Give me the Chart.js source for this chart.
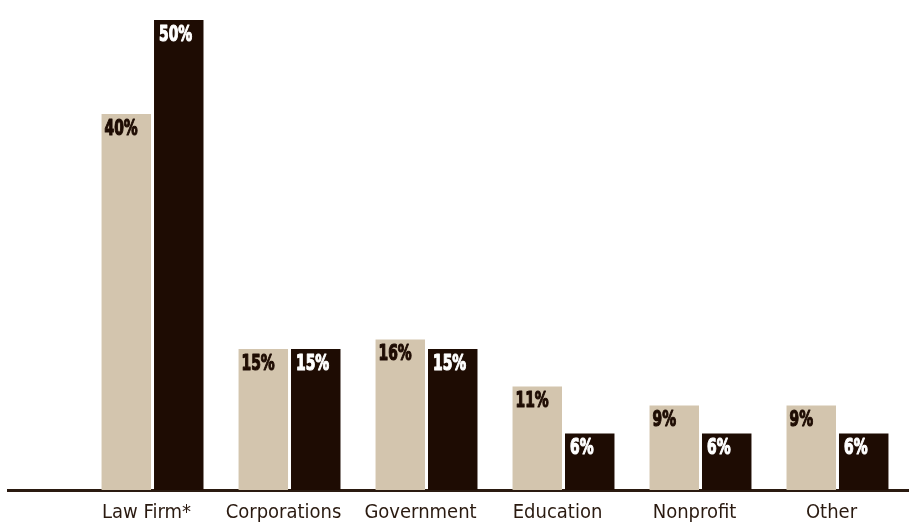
<!DOCTYPE html>
<html>
<head>
<meta charset="utf-8">
<script src="https://cdn.jsdelivr.net/npm/chart.js@4"></script>
<style>
  html, body { margin: 0; padding: 0; background: #fff; }
  #wrap { width: 909px; height: 527px; position: relative; }
</style>
</head>
<body>
<div id="wrap"><canvas id="sectorChart"></canvas></div>
<script>
// chart data
const categories = ['Law Firm*', 'Corporations', 'Government', 'Education', 'Nonprofit', 'Other'];
const seriesA = [40, 15, 16, 11, 9, 9];
const seriesB = [50, 15, 15, 6, 6, 6];

const tan = '#d3c5ae';
const dark = '#1e0c03';

function toPoints(values) {
    return values.map((v, i) => ({ x: i, y: v }));
}

// percent labels in the top-left corner of each bar
const barLabels = {
    id: 'barLabels',
    afterDatasetsDraw(chart) {
        const ctx = chart.ctx;
        chart.data.datasets.forEach((ds, di) => {
            const meta = chart.getDatasetMeta(di);
            meta.data.forEach((bar, i) => {
                const left = bar.x - bar.width / 2;
                const txt = ds.data[i].y + '%';
                ctx.save();
                ctx.fillStyle = di === 0 ? dark : '#ffffff';
                ctx.strokeStyle = ctx.fillStyle;
                ctx.lineWidth = 1.2;
                ctx.lineJoin = 'round';
                ctx.font = 'bold 22px "DejaVu Sans Condensed", "DejaVu Sans", sans-serif';
                ctx.textBaseline = 'top';
                ctx.textAlign = 'left';
                // squeeze the glyphs to get the narrow poster look
                ctx.translate(left + (di === 0 ? 3 : 5), bar.y + 4);
                ctx.scale(0.7, 1);
                ctx.fillText(txt, 0, 0);
                ctx.strokeText(txt, 0, 0);
                ctx.restore();
            });
        });
    }
};

const ctx = document.getElementById('sectorChart').getContext('2d');

new Chart(ctx, {
    type: 'bar',
    data: {
        datasets: [{
            data: toPoints(seriesA),
            backgroundColor: tan,
            categoryPercentage: 0.766,
            barPercentage: 0.943,
        }, {
            data: toPoints(seriesB),
            backgroundColor: dark,
            categoryPercentage: 0.766,
            barPercentage: 0.943,
        }]
    },
    options: {
        responsive: true,
        maintainAspectRatio: false,
        animation: false,
        layout: {
            padding: { left: 8, right: 0, top: 0, bottom: 0 }
        },
        plugins: {
            legend: { display: false },
            tooltip: { enabled: false }
        },
        scales: {
            x: {
                type: 'linear',
                offset: false,
                min: -1.055,
                max: 5.522,
                afterFit: function(scale) {
                    scale.height = 37;
                },
                grid: { display: false, drawTicks: false },
                border: { display: true, color: '#2a1a10', width: 3 },
                ticks: {
                    stepSize: 1,
                    includeBounds: false,
                    autoSkip: false,
                    maxRotation: 0,
                    padding: 11,
                    labelOffset: -6,
                    color: '#2a1a10',
                    font: { family: '"DejaVu Sans Condensed", "DejaVu Sans", sans-serif', size: 20 },
                    callback: function(value) {
                        return categories[value] || '';
                    }
                }
            },
            y: {
                display: false,
                min: 0,
                max: 52.13
            }
        }
    },
    plugins: [barLabels]
});
</script>
</body>
</html>
